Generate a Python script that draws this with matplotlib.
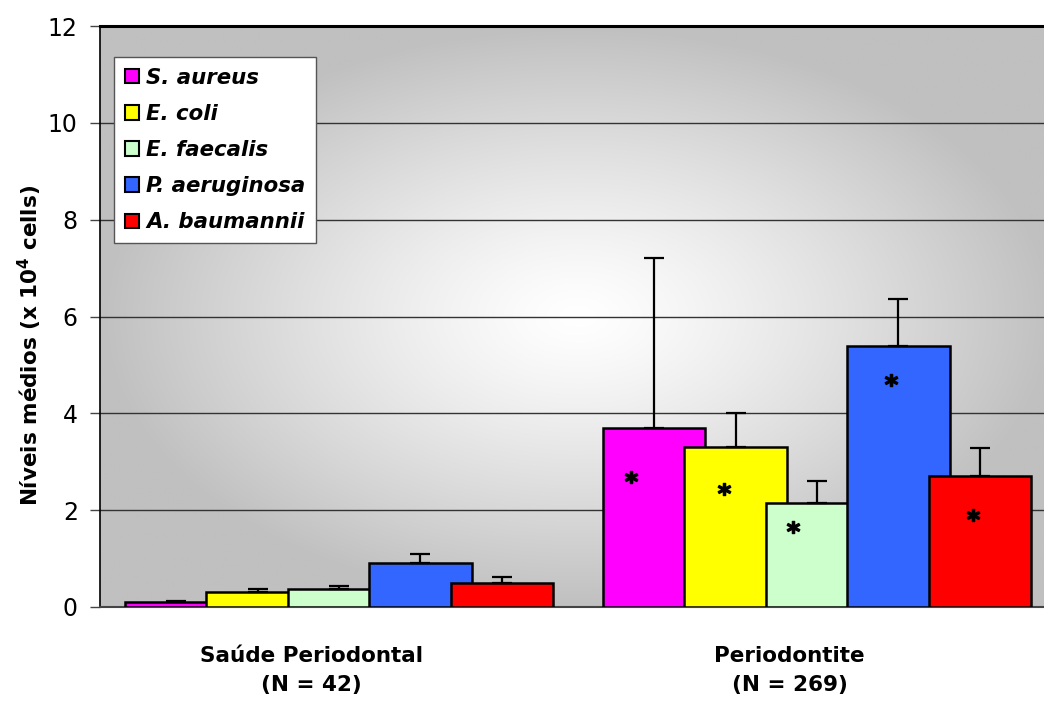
import numpy as np
import matplotlib
matplotlib.use("Agg")
import matplotlib.pyplot as plt
from matplotlib.colors import LinearSegmentedColormap

groups = ["Saúde Periodontal\n(N = 42)", "Periodontite\n(N = 269)"]
species = ["S. aureus", "E. coli", "E. faecalis", "P. aeruginosa", "A. baumannii"]
colors = ["#FF00FF", "#FFFF00", "#CCFFCC", "#3366FF", "#FF0000"]

# mean levels (x 10^4 cells), one list per species: [saude, periodontite]
s_aureus = [0.10, 3.70]
e_coli = [0.31, 3.31]
e_faecalis = [0.37, 2.15]
p_aeruginosa = [0.90, 5.40]
a_baumannii = [0.49, 2.70]

s_aureus_err = [0.03, 3.50]
e_coli_err = [0.06, 0.70]
e_faecalis_err = [0.06, 0.46]
p_aeruginosa_err = [0.19, 0.96]
a_baumannii_err = [0.13, 0.58]

# significance marks in the periodontite group
star_y = [2.69, 2.44, 1.65, 4.69, 1.90]
star_dx = [-0.048, -0.025, -0.050, -0.015, -0.015]

means = [s_aureus, e_coli, e_faecalis, p_aeruginosa, a_baumannii]
errs = [s_aureus_err, e_coli_err, e_faecalis_err, p_aeruginosa_err, a_baumannii_err]

fig = plt.figure(figsize=(10.44, 7.02), dpi=100)
ax = fig.add_axes([100 / 1044, 95 / 702, 956 / 1044, 581 / 702])

# radial grey-to-white background of the plot area
gx, gy = np.meshgrid(np.linspace(-1, 1, 400), np.linspace(-1, 1, 300))
t = np.clip(np.sqrt(gx ** 2 + gy ** 2), 0, 1) ** 1.25
cmap = LinearSegmentedColormap.from_list("bg", ["#FFFFFF", "#C0C0C0"])
ax.imshow(t, cmap=cmap, vmin=0, vmax=1, extent=[0, 1, 0, 1], transform=ax.transAxes,
          aspect="auto", zorder=0, interpolation="bilinear")

x = np.arange(len(groups))
width = 0.2134
step = 0.1705

for i, (m, e, c, name) in enumerate(zip(means, errs, colors, species)):
    pos = x + (i - 2) * step
    ax.bar(pos, m, width=width, color=c, edgecolor="black", linewidth=1.8,
           label=name, zorder=3 + i)
    ax.errorbar(pos, m, yerr=[np.zeros(len(m)), e], fmt="none", ecolor="black",
                elinewidth=1.6, capsize=7, capthick=1.6, zorder=3 + i)
    ax.plot(pos[1] + star_dx[i], star_y[i], marker=r"$\mathbf{*}$", ms=9,
            color="black", linestyle="none", zorder=10)

ax.set_xlim(-0.5, 1.5)
ax.set_ylim(0, 12)
ax.set_yticks(np.arange(0, 13, 2))
ax.yaxis.grid(True, color="#333333", linewidth=1.0, zorder=1)
ax.set_axisbelow(True)
ax.tick_params(axis="y", direction="out", length=7, width=1, color="#444444",
               labelsize=17, pad=9)

ax.set_xticks(x - 0.057)
ax.set_xticklabels(groups, fontsize=15.5, fontweight="bold", linespacing=1.6)
ax.tick_params(axis="x", length=0, pad=28)

for side in ["top", "right"]:
    ax.spines[side].set_visible(False)
ax.spines["left"].set_color("black")
ax.spines["left"].set_linewidth(1.2)
ax.spines["bottom"].set_color("#444444")
ax.spines["bottom"].set_linewidth(1.5)
ax.axhline(12, color="black", linewidth=2.2, zorder=2, clip_on=False)

ax.set_ylabel(r"Níveis médios (x 10$^{\mathbf{4}}$ cells)", fontsize=15.5,
              fontweight="bold")
ax.yaxis.set_label_coords(-0.059, 0.45)

leg = ax.legend(loc="upper left", bbox_to_anchor=(0.0146, 0.9466), borderaxespad=0,
                prop={"weight": "bold", "style": "italic", "size": 15.3},
                handlelength=0.66, handleheight=0.66, handletextpad=0.35,
                labelspacing=0.76, borderpad=0.5, fancybox=False, framealpha=1)
leg.get_frame().set_edgecolor("#555555")
leg.get_frame().set_linewidth(1.0)
leg.set_zorder(20)
for h in leg.legend_handles:
    h.set_linewidth(1.5)

fig.savefig("out.png", dpi=100)
